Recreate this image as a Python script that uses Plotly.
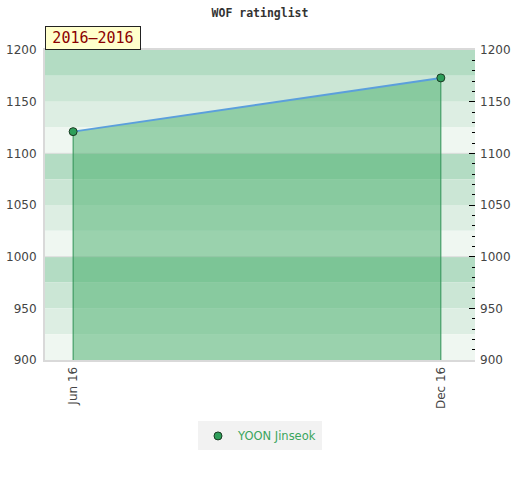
import plotly.graph_objects as go

# Rating list data
dates = ['2016-06-01', '2016-12-01']
tick_labels = ['Jun 16', 'Dec 16']
ratings = [1121, 1173]
player = 'YOON Jinseok'
period_label = '2016–2016'

y_min, y_max = 900, 1200
x_range = ['2016-05-18', '2016-12-18']

band_colors = ['#b3dcc3', '#cbe6d5', '#ddeee3', '#eff7f1']  # top-down within each 100
band_step = 25

fig = go.Figure()

# filled area under the rating line
fig.add_trace(go.Scatter(
    x=dates, y=ratings, mode='lines', fill='tozeroy',
    fillcolor='rgba(69,174,105,0.5)',
    line=dict(color='#5b9fdc', width=2),
    showlegend=False, hoverinfo='skip'
))

# points with drop lines to the axis floor
fig.add_trace(go.Scatter(
    x=dates, y=ratings, mode='markers', name=player,
    marker=dict(color='#2e9e5a', size=8, line=dict(color='#1a3a22', width=1)),
    error_y=dict(type='data', symmetric=False, array=[0] * len(ratings),
                 arrayminus=[r - y_min for r in ratings],
                 color='#2f9155', thickness=1, width=0),
))

# invisible trace so the right axis is drawn
fig.add_trace(go.Scatter(x=dates, y=ratings, yaxis='y2', mode='markers',
                         marker=dict(opacity=0), showlegend=False, hoverinfo='skip'))

# horizontal background bands
shapes = []
top = y_max
i = 0
while top > y_min:
    shapes.append(dict(type='rect', xref='paper', yref='y', x0=0, x1=1,
                       y0=top - band_step, y1=top, fillcolor=band_colors[i % 4],
                       line=dict(width=0), layer='below'))
    if top % 100 == 0 and top != y_max:
        shapes.append(dict(type='line', xref='paper', yref='y', x0=0, x1=1,
                           y0=top, y1=top, line=dict(color='#dedede', width=1),
                           layer='below'))
    top -= band_step
    i += 1

fig.update_layout(
    width=520, height=480,
    margin=dict(l=45, r=45, t=50, b=120, autoexpand=False),
    paper_bgcolor='white', plot_bgcolor='white',
    title=dict(text='<b>WOF ratinglist</b>', x=0.5, xanchor='center', y=0.973, yanchor='middle',
               font=dict(family='DejaVu Sans Mono', size=11.5, color='#333333')),
    font=dict(family='DejaVu Sans', size=12, color='#444444'),
    shapes=shapes,
    xaxis=dict(type='date', range=x_range, tickvals=dates, ticktext=tick_labels,
               tickangle=-90, showgrid=False, zeroline=False,
               showline=True, linecolor='#d9d9d9', linewidth=2, mirror=True,
               tickfont=dict(size=12, color='#444444')),
    yaxis=dict(range=[y_min, y_max], dtick=50, showgrid=False,
               zeroline=False, showline=True, linecolor='#d9d9d9', linewidth=2,
               ticklabelstandoff=4, tickfont=dict(size=12, color='#444444')),
    yaxis2=dict(range=[y_min, y_max], dtick=50, overlaying='y', side='right',
                showgrid=False, zeroline=False, ticks='inside', ticklen=6,
                tickcolor='black', tickwidth=1, ticklabelstandoff=4,
                minor=dict(dtick=10, ticks='inside', ticklen=3, tickcolor='black'),
                tickfont=dict(size=12, color='#444444')),
    legend=dict(orientation='h', x=0.5, xanchor='center', y=-0.245, yanchor='middle',
                bgcolor='#f2f2f2', itemwidth=30, font=dict(color='#3aa55d', size=11.5)),
    annotations=[dict(text=period_label, xref='paper', yref='paper', x=0, y=1,
                      xanchor='left', yanchor='bottom', showarrow=False,
                      width=92, height=20, align='center',
                      bgcolor='#ffffcc', bordercolor='#222222', borderwidth=1, borderpad=1,
                      font=dict(family='DejaVu Sans Mono', size=15, color='#8b0000'))],
)

fig.write_html('out.html', config={'displayModeBar': False},
               post_script="document.body.style.margin='0';")
